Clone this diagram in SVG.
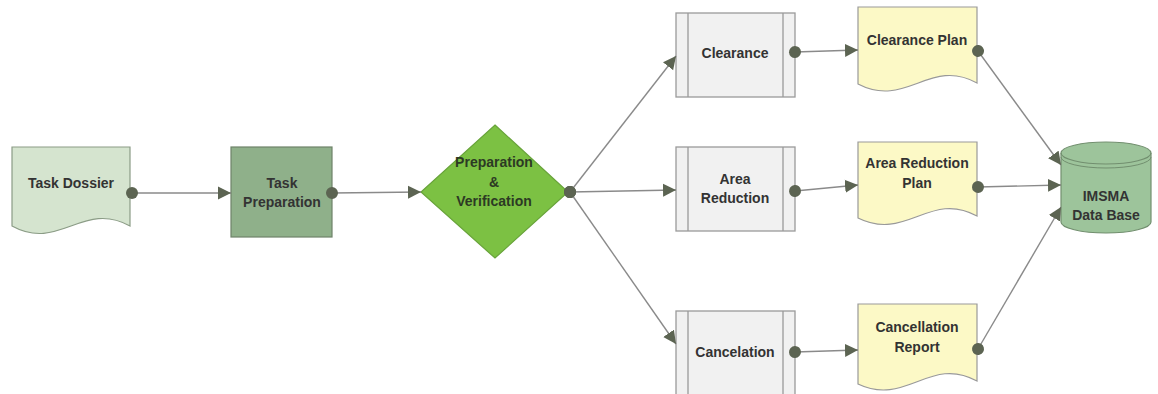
<svg xmlns="http://www.w3.org/2000/svg" width="1158" height="394" viewBox="0 0 1158 394">
<style>
text{font-family:"Liberation Sans",Arial,sans-serif;font-weight:bold;font-size:14px;text-anchor:middle;fill:#333}
.doc1{fill:#d5e4cf;stroke:#8b9c86;stroke-width:1.2}
.tp{fill:#8fb08a;stroke:#6e8369;stroke-width:1.2}
.dia{fill:#7cc143;stroke:#68a33a;stroke-width:1.2}
.box{fill:#f1f1f1;stroke:#9a9a9a;stroke-width:1.3}
.plan{fill:#fcf9c6;stroke:#999;stroke-width:1.2}
.db{fill:#9dc49b;stroke:#728f6f;stroke-width:1.2}
.conn{fill:none;stroke:#8a8a8a;stroke-width:1.4;marker-start:url(#dot);marker-end:url(#arr)}
.dk{fill:#2c3a24}
</style>
<defs>
<marker id="arr" markerUnits="userSpaceOnUse" markerWidth="14" markerHeight="14" refX="13" refY="7" orient="auto">
<path d="M0,0.5 L13,7 L0,13.5 Z" fill="#5c6452"/>
</marker>
<marker id="dot" markerUnits="userSpaceOnUse" markerWidth="14" markerHeight="14" refX="7" refY="7" orient="auto">
<circle cx="7" cy="7" r="6" fill="#5c6452"/>
</marker>
</defs>
<rect width="1158" height="394" fill="#ffffff"/>
<g id="task-dossier">
<path class="doc1" d="M12,147 H130 V226 C83,200 59,252 12,226 Z"/>
<text x="71" y="188">Task Dossier</text>
</g>
<g id="task-preparation">
<rect class="tp" x="231" y="147" width="101" height="90"/>
<text x="282" y="188">Task</text>
<text x="282" y="207">Preparation</text>
</g>
<g id="prep-verification">
<path class="dia" d="M495,125 L568,192 L495,258 L421,192 Z"/>
<text class="dk" x="494" y="167">Preparation</text>
<text class="dk" x="494" y="187">&amp;</text>
<text class="dk" x="494" y="206">Verification</text>
</g>
<g id="clearance">
<rect class="box" x="676" y="13" width="119" height="84"/>
<line class="box" x1="688" y1="13" x2="688" y2="97"/>
<line class="box" x1="783" y1="13" x2="783" y2="97"/>
<text x="735" y="58">Clearance</text>
</g>
<g id="area-reduction">
<rect class="box" x="676" y="147" width="119" height="84"/>
<line class="box" x1="688" y1="147" x2="688" y2="231"/>
<line class="box" x1="783" y1="147" x2="783" y2="231"/>
<text x="735" y="184">Area</text>
<text x="735" y="203">Reduction</text>
</g>
<g id="cancelation">
<rect class="box" x="676" y="311" width="119" height="86"/>
<line class="box" x1="688" y1="311" x2="688" y2="397"/>
<line class="box" x1="783" y1="311" x2="783" y2="397"/>
<text x="735" y="357">Cancelation</text>
</g>
<g id="clearance-plan">
<path class="plan" d="M858,7 H977 V83 C930,57 906,109 858,84 Z"/>
<text x="917" y="45">Clearance Plan</text>
</g>
<g id="area-reduction-plan">
<path class="plan" d="M858,142 H977 V216 C930,190 906,242 858,218 Z"/>
<text x="917" y="168">Area Reduction</text>
<text x="917" y="188">Plan</text>
</g>
<g id="cancellation-report">
<path class="plan" d="M858,304 H977 V381 C930,355 906,407 858,384 Z"/>
<text x="917" y="332">Cancellation</text>
<text x="917" y="352">Report</text>
</g>
<g id="imsma-db">
<path class="db" d="M1061,153 A45,11 0 0 1 1151,153 V222 A45,11 0 0 1 1061,222 Z"/>
<path d="M1061,153 A45,11 0 0 0 1151,153" fill="none" stroke="#728f6f" stroke-width="1.2"/>
<path d="M1061,157 A45,11 0 0 0 1151,157" fill="none" stroke="#728f6f" stroke-width="1"/>
<text x="1106" y="201">IMSMA</text>
<text x="1106" y="220">Data Base</text>
</g>
<g id="connectors">
<path class="conn" d="M132,193 L231,193"/>
<path class="conn" d="M332,193 L421,192"/>
<path class="conn" d="M570,192 L676,56"/>
<path class="conn" d="M570,192 L676,190"/>
<path class="conn" d="M570,192 L676,344"/>
<path class="conn" d="M795,52 L858,50"/>
<path class="conn" d="M795,191 L858,185"/>
<path class="conn" d="M795,352 L858,350"/>
<path class="conn" d="M978,51 L1061,165"/>
<path class="conn" d="M978,187 L1061,185"/>
<path class="conn" d="M978,349 L1061,207"/>
</g>
</svg>
